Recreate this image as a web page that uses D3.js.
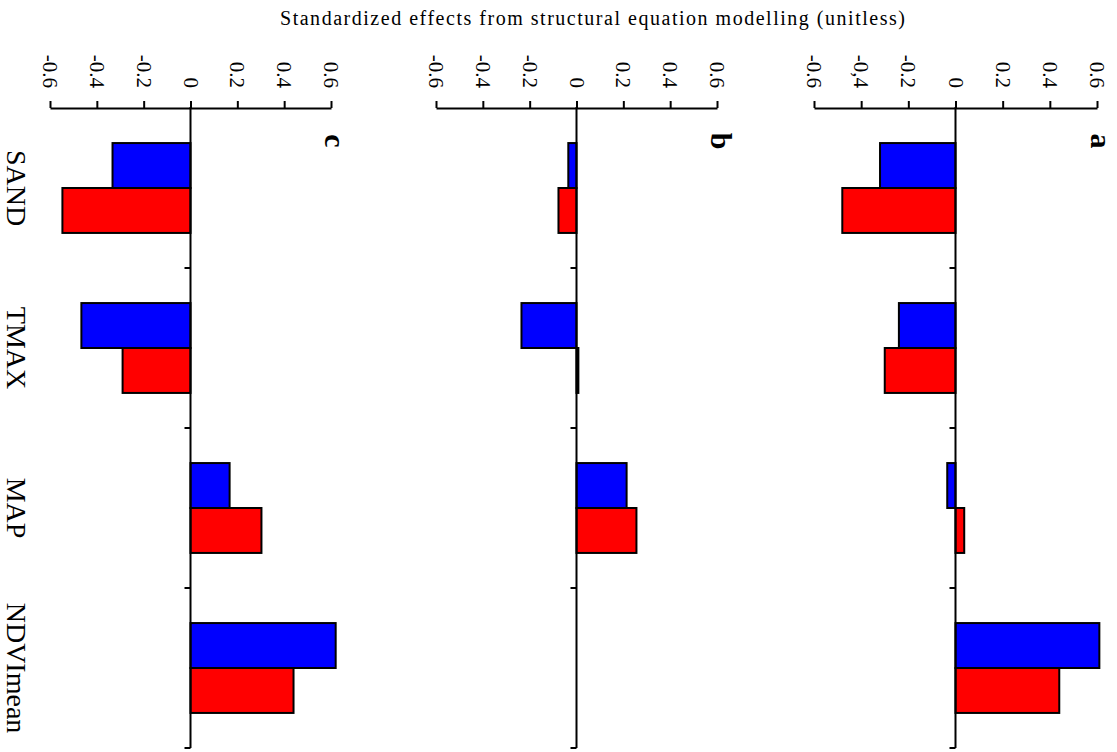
<!DOCTYPE html>
<html>
<head>
<meta charset="utf-8">
<script src="https://cdnjs.cloudflare.com/ajax/libs/d3/7.8.5/d3.min.js"></script>
<style>
    body { margin: 0; background: #fff; }
    svg { display: block; font-family: 'Liberation Serif', 'Times New Roman', serif; }
</style>
</head>
<body>
<svg id="chart" width="1117" height="752"></svg>
<script>
// data
const categories = ['SAND', 'TMAX', 'MAP', 'NDVImean'];
const series = ['blue', 'red'];
const panelNames = ['a', 'b', 'c'];

const blueA = [-0.32, -0.24, -0.035, 0.61];
const redA = [-0.48, -0.30, 0.037, 0.44];
const blueB = [-0.035, -0.235, 0.214, 0];
const redB = [-0.077, 0.008, 0.256, 0];
const blueC = [-0.333, -0.466, 0.167, 0.62];
const redC = [-0.547, -0.29, 0.303, 0.44];

const tickValues = [-0.6, -0.4, -0.2, 0, 0.2, 0.4, 0.6];
const tickLabelsA = ['-0.6', '-0,4', '-0.2', '0', '0.2', '0.4', '0.6'];
const tickLabelsB = ['-0.6', '-0.4', '-0.2', '0', '0.2', '0.4', '0.6'];
const tickLabelsC = ['-0.6', '-0.4', '-0.2', '0', '0.2', '0.4', '0.6'];

const titleText = 'Standardized effects from structural equation modelling (unitless)';

const sketch = (function () {

    let svg = d3.select('#chart'),
        colors = { blue: '#0000ff', red: '#ff0000' },
        serif = "'Liberation Serif', 'Times New Roman', serif",
        axisTop = 108,
        axisBottom = 748,
        tickFontSize = 21,
        catFontSize = 28
        ;

    // horizontal pixel extent of each panel's value axis
    let panels = [
        { name: 'a', range: [814, 1097], blue: blueA, red: redA, labels: tickLabelsA },
        { name: 'b', range: [436, 717], blue: blueB, red: redB, labels: tickLabelsB },
        { name: 'c', range: [50, 331], blue: blueC, red: redC, labels: tickLabelsC, showCats: true }
    ];

    let y = d3.scaleBand()
        .domain(categories)
        .range([axisTop, axisBottom])
        .padding(0);

    let ySub = d3.scaleBand()
        .domain(series)
        .range([0, y.bandwidth()])
        .paddingInner(0)
        .paddingOuter(0.78);

    return { init };

    function init() {

        //the original title is loosely spaced, stretch it to the same width
        svg.append('text')
            .attr('x', 280)
            .attr('y', 25)
            .attr('textLength', 625)
            .attr('lengthAdjust', 'spacing')
            .style('font-family', serif)
            .style('font-size', '20px')
            .text(titleText);

        for (let p of panels)
            drawPanel(p);
    }

    function drawPanel(p) {

        let x = d3.scaleLinear()
            .domain([-0.6, 0.6])
            .range(p.range);

        let g = svg.append('g').attr('class', 'panel-' + p.name);

        //bars, blue above red inside each category band
        let rows = [];
        categories.forEach(function (c, i) {
            rows.push({ cat: c, key: 'blue', value: p.blue[i] });
            rows.push({ cat: c, key: 'red', value: p.red[i] });
        });

        g.selectAll('.bar')
            .data(rows.filter(function (d) { return d.value != 0; }))
            .enter().append('rect')
            .attr('class', 'bar')
            .attr('x', function (d) { return Math.min(x(0), x(d.value)); })
            .attr('y', function (d) { return y(d.cat) + ySub(d.key); })
            .attr('width', function (d) { return Math.abs(x(d.value) - x(0)); })
            .attr('height', ySub.bandwidth())
            .style('fill', function (d) { return colors[d.key]; })
            .style('stroke', '#000')
            .style('stroke-width', 2);

        //value axis on top, ticks pointing up
        let ax = g.append('g')
            .attr('transform', 'translate(0,' + axisTop + ')')
            .call(d3.axisTop(x)
                .tickValues(tickValues)
                .tickSize(7)
                .tickSizeOuter(0)
                .tickFormat(function (d, i) { return p.labels[i]; }));

        ax.select('.domain').attr('stroke', '#000').attr('stroke-width', 2);
        ax.selectAll('.tick line').attr('stroke', '#000').attr('stroke-width', 2);
        ax.selectAll('.tick text')
            .attr('x', 0)
            .attr('y', 0)
            .attr('dy', '0.35em')
            .attr('transform', 'translate(0,-20) rotate(90)')
            .attr('text-anchor', 'end')
            .attr('fill', '#000')
            .style('font-family', serif)
            .style('font-size', tickFontSize + 'px');

        //zero line acts as category axis
        g.append('line')
            .attr('x1', x(0)).attr('x2', x(0))
            .attr('y1', axisTop - 1).attr('y2', axisBottom)
            .style('stroke', '#000')
            .style('stroke-width', 2);

        g.selectAll('.cat-tick')
            .data(categories)
            .enter().append('line')
            .attr('class', 'cat-tick')
            .attr('x1', x(0) - 6).attr('x2', x(0))
            .attr('y1', function (d) { return y(d) + y.bandwidth(); })
            .attr('y2', function (d) { return y(d) + y.bandwidth(); })
            .style('stroke', '#000')
            .style('stroke-width', 2);

        //panel letter
        g.append('text')
            .attr('transform', 'translate(' + (x(0.6) - 6) + ',141) rotate(90)')
            .attr('text-anchor', 'middle')
            .style('font-family', serif)
            .style('font-size', '30px')
            .style('font-weight', 'bold')
            .text(p.name);

        //category names only on the left panel
        if (p.showCats) {
            svg.selectAll('.cat-label')
                .data(categories)
                .enter().append('text')
                .attr('class', 'cat-label')
                .attr('transform', function (d) {
                    return 'translate(7,' + (y(d) + y.bandwidth() / 2) + ') rotate(90)';
                })
                .attr('text-anchor', 'middle')
                .style('font-family', serif)
                .style('font-size', catFontSize + 'px')
                .text(function (d) { return d; });
        }
    }

}());

sketch.init();
</script>
</body>
</html>
